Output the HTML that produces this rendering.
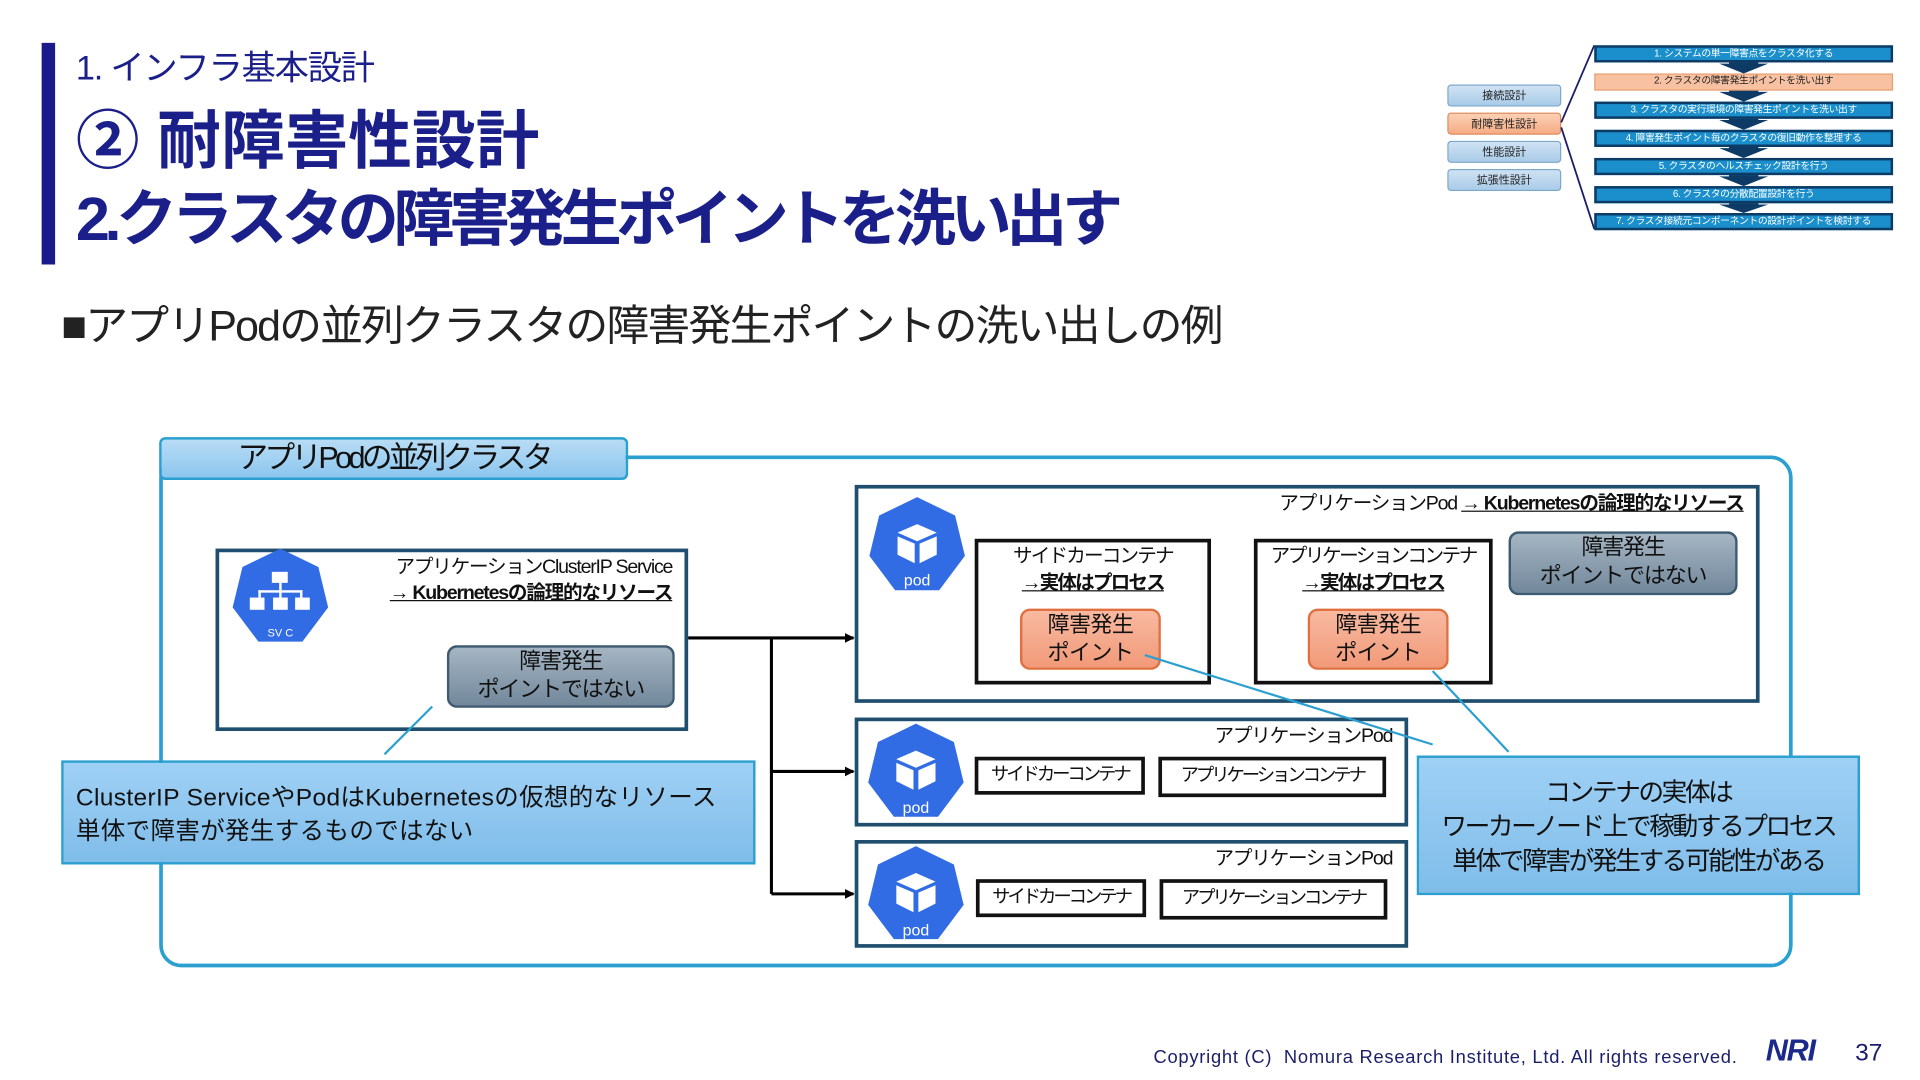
<!DOCTYPE html>
<html><head><meta charset="utf-8"><style>
html,body{margin:0;padding:0;width:1920px;height:1080px;overflow:hidden;background:#fff}
#w{position:absolute;left:0;top:0;width:1568px;height:882px;transform:scale(1.22449);transform-origin:0 0;font-family:"Liberation Sans","Noto Sans CJK JP",sans-serif;color:#111}
.a{position:absolute;box-sizing:border-box}
.t{position:absolute;white-space:nowrap;line-height:1}
.mb{position:absolute;box-sizing:border-box;background:#1a8fcc;border:2px solid #0d3b66;color:#fff;font-size:8px;text-align:center;line-height:10px;white-space:nowrap;letter-spacing:-0.3px}
.lb{position:absolute;box-sizing:border-box;background:linear-gradient(#cfe2f3,#a9cbe8);border:1px solid #7aa7cc;border-radius:3px;font-size:9px;text-align:center;line-height:16px;color:#222}
.gray{position:absolute;box-sizing:border-box;background:linear-gradient(#a5b5c3,#72889b);border:2px solid #3d5a70;border-radius:8px;text-align:center;font-size:18px;line-height:23px;color:#111;letter-spacing:-1px;white-space:nowrap}
.org{position:absolute;box-sizing:border-box;background:linear-gradient(#f8b9a0,#f19a79);border:2px solid #e0703f;border-radius:8px;text-align:center;font-size:18px;line-height:23px;color:#111;letter-spacing:-0.5px}
.bx{position:absolute;box-sizing:border-box;border:3px solid #111;background:#fff}
.pod{position:absolute;box-sizing:border-box;border:3px solid #1f4e6e;background:#fff}
.sm{font-size:15px;text-align:center;line-height:24px;white-space:nowrap;letter-spacing:-2.5px}
</style></head><body><div id="w">
<div class="a" style="left:34px;top:35px;width:11px;height:181px;background:#1a1a8c"></div>
<div class="t" style="left:62px;top:42px;font-size:28px;color:#1b1f8a;letter-spacing:-1px">1. インフラ基本設計</div>
<div class="t" style="left:62px;top:90px;font-size:52px;font-weight:bold;color:#1b1f8a">② 耐障害性設計</div>
<div class="t" style="left:62px;top:154px;font-size:50px;font-weight:bold;color:#1b1f8a;letter-spacing:-4.5px">2.クラスタの障害発生ポイントを洗い出す</div>
<div class="t" style="left:50px;top:249px;font-size:35px;color:#222;letter-spacing:-1.5px">■アプリPodの並列クラスタの障害発生ポイントの洗い出しの例</div>

<div class="lb" style="left:1182px;top:69px;width:93px;height:18px">接続設計</div>
<div class="lb" style="left:1182px;top:92px;width:93px;height:18px;background:linear-gradient(#fbd0b5,#f5ac85);border-color:#e08a5a">耐障害性設計</div>
<div class="lb" style="left:1182px;top:115px;width:93px;height:18px">性能設計</div>
<div class="lb" style="left:1182px;top:138px;width:93px;height:18px">拡張性設計</div>
<svg class="a" style="left:0;top:0" width="1568" height="882">
<line x1="1275" y1="100" x2="1302" y2="37" stroke="#1b1f6a" stroke-width="1.5"/>
<line x1="1275" y1="104" x2="1302" y2="187" stroke="#1b1f6a" stroke-width="1.5"/>
<g fill="#0d3b66">
<polygon points="1412,50 1436,50 1436,52 1444,52 1424,60 1404,52 1412,52"/>
<polygon points="1412,73 1436,73 1436,75 1444,75 1424,83 1404,75 1412,75"/>
<polygon points="1412,96 1436,96 1436,98 1444,98 1424,106 1404,98 1412,98"/>
<polygon points="1412,119 1436,119 1436,121 1444,121 1424,129 1404,121 1412,121"/>
<polygon points="1412,142 1436,142 1436,144 1444,144 1424,152 1404,144 1412,144"/>
<polygon points="1412,165 1436,165 1436,167 1444,167 1424,174 1404,167 1412,167"/>
</g></svg>
<div class="mb" style="left:1302px;top:37px;width:244px;height:14px">1. システムの単一障害点をクラスタ化する</div>
<div class="mb" style="left:1302px;top:60px;width:244px;height:14px;background:#f8c2a2;border:1px solid #e8a070;color:#222">2. クラスタの障害発生ポイントを洗い出す</div>
<div class="mb" style="left:1302px;top:83px;width:244px;height:14px">3. クラスタの実行環境の障害発生ポイントを洗い出す</div>
<div class="mb" style="left:1302px;top:106px;width:244px;height:14px">4. 障害発生ポイント毎のクラスタの復旧動作を整理する</div>
<div class="mb" style="left:1302px;top:129px;width:244px;height:14px">5. クラスタのヘルスチェック設計を行う</div>
<div class="mb" style="left:1302px;top:152px;width:244px;height:14px">6. クラスタの分散配置設計を行う</div>
<div class="mb" style="left:1302px;top:174px;width:244px;height:14px">7. クラスタ接続元コンポーネントの設計ポイントを検討する</div>

<div class="a" style="left:130px;top:372px;width:1334px;height:418px;border:3px solid #2a9fd0;border-radius:18px"></div>
<div class="a" style="left:130px;top:357px;width:383px;height:35px;background:linear-gradient(#b8dcf5,#8cc6ee);border:2px solid #2a9fd0;border-radius:5px;font-size:25px;line-height:31px;padding-left:62px;color:#111;letter-spacing:-3px;white-space:nowrap">アプリPodの並列クラスタ</div>

<div class="pod" style="left:176px;top:448px;width:386px;height:149px;border-color:#1f4e6e"></div>
<div class="t" style="right:1019px;top:456px;font-size:16px;letter-spacing:-1px">アプリケーションClusterIP Service</div>
<div class="t" style="right:1019px;top:477px;font-size:16px;font-weight:bold;text-decoration:underline;letter-spacing:-1px">→ Kubernetesの論理的なリソース</div>
<div class="gray" style="left:365px;top:527px;width:186px;height:51px">障害発生<br>ポイントではない</div>

<div class="pod" style="left:698px;top:396px;width:739px;height:178px"></div>
<div class="t" style="right:144px;top:404px;font-size:16px;letter-spacing:-1px">アプリケーションPod <span style="text-decoration:underline;font-weight:bold">→ Kubernetesの論理的なリソース</span></div>
<div class="bx" style="left:796px;top:440px;width:193px;height:119px"></div>
<div class="t" style="left:796px;width:193px;text-align:center;top:447px;font-size:16px;letter-spacing:-1.5px">サイドカーコンテナ</div>
<div class="t" style="left:796px;width:193px;text-align:center;top:469px;font-size:16px;font-weight:bold;letter-spacing:-1.5px"><u>→実体はプロセス</u></div>
<div class="org" style="left:833px;top:497px;width:115px;height:50px">障害発生<br>ポイント</div>
<div class="bx" style="left:1024px;top:440px;width:195px;height:119px"></div>
<div class="t" style="left:1024px;width:195px;text-align:center;top:447px;font-size:16px;letter-spacing:-2px">アプリケーションコンテナ</div>
<div class="t" style="left:1024px;width:195px;text-align:center;top:469px;font-size:16px;font-weight:bold;letter-spacing:-1.5px"><u>→実体はプロセス</u></div>
<div class="org" style="left:1068px;top:497px;width:115px;height:50px">障害発生<br>ポイント</div>
<div class="gray" style="left:1232px;top:434px;width:187px;height:52px">障害発生<br>ポイントではない</div>

<div class="pod" style="left:698px;top:586px;width:452px;height:89px"></div>
<div class="t" style="right:431px;top:594px;font-size:16px;letter-spacing:-1px">アプリケーションPod</div>
<div class="bx sm" style="left:796px;top:618px;width:139px;height:31px">サイドカーコンテナ</div>
<div class="bx sm" style="left:946px;top:618px;width:186px;height:33px;line-height:26px">アプリケーションコンテナ</div>
<div class="pod" style="left:698px;top:686px;width:452px;height:88px"></div>
<div class="t" style="right:431px;top:694px;font-size:16px;letter-spacing:-1px">アプリケーションPod</div>
<div class="bx sm" style="left:797px;top:718px;width:139px;height:31px">サイドカーコンテナ</div>
<div class="bx sm" style="left:947px;top:718px;width:186px;height:33px;line-height:26px">アプリケーションコンテナ</div>

<svg class="a" style="left:0;top:0" width="1568" height="882">
<defs><marker id="ar" markerWidth="8" markerHeight="8" refX="7" refY="4" orient="auto" markerUnits="userSpaceOnUse"><path d="M0,0 L8,4 L0,8z" fill="#000"/></marker></defs>
<g stroke="#000" stroke-width="2.5" fill="none">
<line x1="562" y1="521" x2="697" y2="521" marker-end="url(#ar)"/>
<line x1="630" y1="521" x2="630" y2="730"/>
<line x1="630" y1="630" x2="697" y2="630" marker-end="url(#ar)"/>
<line x1="630" y1="730" x2="697" y2="730" marker-end="url(#ar)"/>
</g>
<g stroke="#2a9fd0" stroke-width="1.8">
<line x1="314" y1="616" x2="353" y2="577"/>
<line x1="935" y1="535" x2="1170" y2="608"/>
<line x1="1170" y1="548" x2="1232" y2="614"/>
</g>
<g fill="#326ce5">
<polygon points="229,448 260,463 268,496 247,524 211,524 190,496 198,463"/>
<polygon points="749,406 780,421 788,454 767,482 731,482 710,454 718,421"/>
<polygon points="748,591 779,606 787,639 766,667 730,667 709,639 717,606"/>
<polygon points="748,691 779,706 787,739 766,767 730,767 709,739 717,706"/>
</g>
<g fill="#fff">
<rect x="222" y="467" width="13" height="9"/><rect x="228" y="476" width="2" height="6"/><rect x="211" y="482" width="36" height="2"/>
<rect x="211" y="482" width="2" height="6"/><rect x="228" y="482" width="2" height="6"/><rect x="245" y="482" width="2" height="6"/>
<rect x="204" y="488" width="12" height="10"/><rect x="223" y="488" width="12" height="10"/><rect x="241" y="488" width="12" height="10"/>
<text x="229" y="520" font-size="9" text-anchor="middle" font-family="Liberation Sans">SV C</text>
</g>
<g fill="#fff">
<polygon points="749,428 765,435 749,442 733,435"/><polygon points="733,438 747,444 747,460 733,453"/><polygon points="751,444 765,438 765,453 751,460"/>
</g>
<g fill="#fff" transform="translate(-1,185)"><polygon points="749,428 765,435 749,442 733,435"/><polygon points="733,438 747,444 747,460 733,453"/><polygon points="751,444 765,438 765,453 751,460"/></g>
<g fill="#fff" transform="translate(-1,285)"><polygon points="749,428 765,435 749,442 733,435"/><polygon points="733,438 747,444 747,460 733,453"/><polygon points="751,444 765,438 765,453 751,460"/></g>
<g fill="#fff" font-size="13" font-family="Liberation Sans" text-anchor="middle">
<text x="749" y="478">pod</text><text x="748" y="664">pod</text><text x="748" y="764">pod</text>
</g>
</svg>

<div class="a" style="left:50px;top:621px;width:567px;height:85px;background:linear-gradient(#9fd0f5,#7fbde9);border:2px solid #2a9fd0"></div>
<div class="t" style="left:62px;top:639px;font-size:20px;line-height:27px;letter-spacing:0.3px">ClusterIP ServiceやPodはKubernetesの仮想的なリソース<br>単体で障害が発生するものではない</div>
<div class="a" style="left:1157px;top:617px;width:362px;height:114px;background:linear-gradient(#9fd0f5,#7fbde9);border:2px solid #2a9fd0;text-align:center;font-size:21px;line-height:28px;padding-top:15px;letter-spacing:-2px;white-space:nowrap">コンテナの実体は<br>ワーカーノード上で稼動するプロセス<br>単体で障害が発生する可能性がある</div>

<div class="t" style="left:942px;top:856px;font-size:15px;color:#1b1f6a;letter-spacing:0.6px">Copyright (C)&nbsp; Nomura Research Institute, Ltd. All rights reserved.</div>
<div class="t" style="left:1442px;top:846px;font-size:25px;font-weight:bold;font-style:italic;color:#1b2a8a;letter-spacing:-1px">NRI</div>
<div class="t" style="left:1515px;top:850px;font-size:20px;color:#1b1f6a">37</div>
</div></body></html>
